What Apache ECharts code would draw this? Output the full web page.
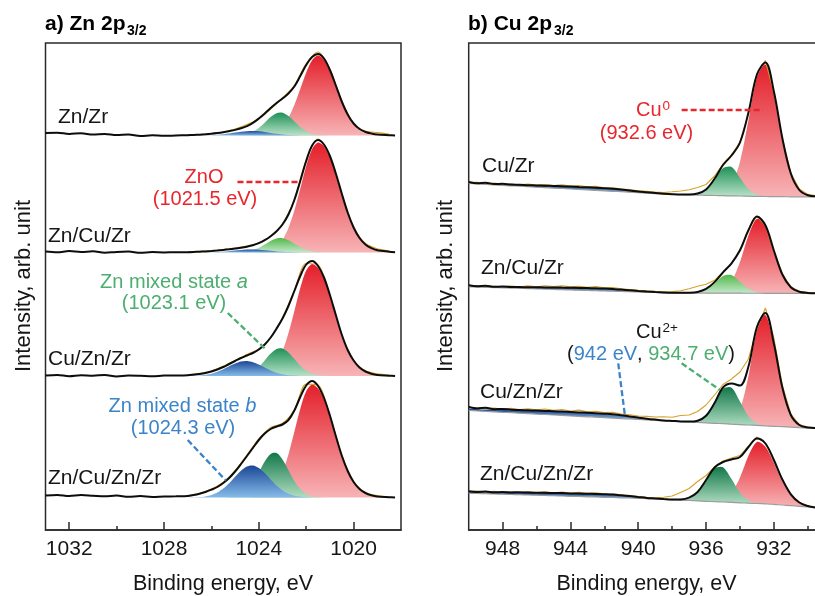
<!DOCTYPE html>
<html>
<head>
<meta charset="utf-8">
<title>Zn 2p3/2 and Cu 2p3/2 XPS</title>
<script src="https://cdn.jsdelivr.net/npm/echarts@6.0.0/dist/echarts.min.js"></script>
<style>
  html, body { margin: 0; padding: 0; background: #fff; }
  #chart { width: 815px; height: 596px; }
</style>
</head>
<body>
<div id="chart"></div>
<script>
// ===================== Zn 2p3/2 panel =====================
const znSamples = ['Zn/Zr', 'Zn/Cu/Zr', 'Cu/Zn/Zr', 'Zn/Cu/Zn/Zr'];
const znTicks = [1032, 1028, 1024, 1020];
const znMinorTicks = [1030, 1026, 1022];

// binding energy grid of the fitted curves (eV)
const znEnergy = [1033, 1032.5, 1032, 1031.5, 1031, 1030.5, 1030, 1029.5, 1029, 1028.5, 1028, 1027.5,
  1027, 1026.75, 1026.5, 1026.25, 1026, 1025.75, 1025.5, 1025.25, 1025, 1024.75, 1024.5, 1024.25,
  1024, 1023.75, 1023.5, 1023.25, 1023, 1022.75, 1022.5, 1022.25, 1022, 1021.75, 1021.5, 1021.25,
  1021, 1020.75, 1020.5, 1020.25, 1020, 1019.75, 1019.5, 1019.25, 1019, 1018.5, 1018.25];
// energy grid of the measured counts
const znRawEnergy = [1027, 1026.5, 1026, 1025.5, 1025, 1024.5, 1024, 1023.5, 1023, 1022.5, 1022, 1021.5,
  1021, 1020.5, 1020, 1019.5, 1019, 1018.5];

// Zn/Zr
const zn_ZnZr_ZnO = [0,0,0,0,0,0,0,0,0,0,0,0, 0,0,0,0,0,0,0,0,0,0,0,0,
  0.2,0.6,1.7,4.2,9.1,17.8,30.5,46.5,62.9,75.3,80.0,75.7,64.1,48.6,32.9,19.9,10.8,5.3,2.3,0.9,0.3,0,0];
const zn_ZnZr_mixA = [0,0,0,0,0,0,0,0,0,0,0,0, 0,0,0,0,0,0,0,0,
  0.2,0.5,1.5,3.7,7.5,12.8,18.4,22.3,22.7,19.4,14.0,8.4,4.3,1.8,0.7,0.2, 0,0,0,0,0,0,0,0,0,0,0];
const zn_ZnZr_mixB = [0,0,0,0,0,0,0,0,0,0,0,0, 0,0,0,
  0.2,0.3,0.7,1.3,2.0,2.9,3.8,4.3,4.5,4.2,3.4,2.5,1.7,1.0,0.5,0.3,0.1, 0,0,0,0,0,0,0,0,0,0,0,0,0,0,0];
const zn_ZnZr_fit = [2.5,2.8,1.6,2.2,1.0,1.5,0.4,1.0,-0.6,0.3,-0.3,0.0,
  0.3,0.5,0.8,1.2,1.7,2.4,3.3,4.4,5.6,7.2,9.4,12.6,17.0,22.0,27.5,32.5,37.0,42.0,49.0,59.5,70.5,78.5,81.5,
  77.0,65.5,50.0,34.0,21.0,12.0,6.5,3.5,2.0,1.0,0.3,0];
const zn_ZnZr_raw = [0.5,1.0,2.0,3.5,6.5,11.0,16.5,26.5,37.5,50.0,72.0,83.5,66.5,35.0,12.0,4.5,3.0,1.5];

// Zn/Cu/Zr
const zn_ZnCuZr_ZnO = [0,0,0,0,0,0,0,0,0,0,0,0, 0,0,0,0,0,0,0,0,0,0,0,0,
  0.2,0.9,2.3,5.7,12.5,24.4,41.9,63.9,86.5,103.5,110.0,106.2,95.2,78.1,58.3,39.6,24.8,14.3,7.7,3.9,1.8,0.3,0.1];
const zn_ZnCuZr_mixA = [0,0,0,0,0,0,0,0,0,0,0,0, 0,0,0,0,0,0,0,0,
  0.1,0.3,1.0,2.3,4.7,8.1,11.6,14.1,14.3,12.2,8.8,5.3,2.7,1.2,0.4,0.1, 0,0,0,0,0,0,0,0,0,0,0];
const zn_ZnCuZr_mixB = [0,0,0,0,0,0,0,0,0,0,0,0, 0,0,0,
  0.1,0.2,0.5,0.8,1.3,1.9,2.5,2.9,3.0,2.8,2.3,1.7,1.1,0.7,0.4,0.2,0.1, 0,0,0,0,0,0,0,0,0,0,0,0,0,0,0];
const zn_ZnCuZr_fit = [1.0,0.2,1.4,0.5,1.2,-0.3,0.6,0.9,-0.2,0.4,0.1,0.2,
  0.3,0.5,0.8,1.1,1.5,2.0,2.6,3.2,3.9,4.7,5.8,7.2,9.3,12.4,16.3,21.3,28.0,38.0,52.5,71.5,91.5,107.0,112.5,
  108.0,96.5,79.0,59.0,40.0,25.0,14.5,8.0,4.3,2.2,0.8,0.3];
const zn_ZnCuZr_raw = [0.6,1.2,1.8,2.9,4.6,6.4,9.8,16.0,28.6,53.0,92.5,113.5,96.0,58.5,25.5,9.0,3.8,1.6];

// Cu/Zn/Zr
const zn_CuZnZr_ZnO = [0,0,0,0,0,0,0,0,0,0,0,0, 0,0,0,0,0,0,0,0,0,0,0,
  0.2,0.9,2.4,5.8,12.8,24.9,42.7,65.1,88.0,105.4,112.0,108.1,96.9,79.5,59.4,40.3,25.2,14.6,7.8,3.9,1.8,0.8,0.2,0.1];
const zn_CuZnZr_mixA = [0,0,0,0,0,0,0,0,0,0,0,0, 0,0,0,0,0,0,0,
  0.1,0.2,0.6,1.8,4.5,9.1,15.6,22.4,27.1,27.6,23.6,17.0,10.3,5.2,2.2,0.8,0.3,0.1, 0,0,0,0,0,0,0,0,0,0];
const zn_CuZnZr_mixB = [0,0,0,0,0,0,0,0,0,0,0,0, 0,
  0.2,0.5,1.2,2.3,4.2,6.7,9.7,12.5,14.5,15.0,13.8,11.5,8.5,5.6,3.3,1.8,0.8,0.4,0.1, 0,0,0,0,0,0,0,0,0,0,0,0,0,0,0];
const zn_CuZnZr_fit = [0.5,1.1,-0.2,0.8,0.3,1.0,-0.4,0.5,0.2,-0.3,0.4,0.5,
  0.8,1.3,2.0,3.0,4.5,6.5,9.0,12.0,15.0,18.0,20.5,23.0,26.5,31.5,38.5,47.5,57.5,70.0,85.0,100.0,111.5,115.0,110.0,
  98.5,81.0,61.0,41.5,26.0,15.5,8.5,4.5,2.3,1.0,0.3,0];
const zn_CuZnZr_raw = [1.2,2.6,4.9,9.8,15.4,21.6,27.0,38.0,58.0,85.5,112.5,111.0,80.5,41.0,16.0,5.2,2.2,1.0];

// Zn/Cu/Zn/Zr
const zn_ZnCuZnZr_ZnO = [0,0,0,0,0,0,0,0,0,0,0,0, 0,0,0,0,0,0,0,0,0,0,0,
  0.2,0.9,2.4,5.9,12.9,25.1,43.1,65.7,88.8,106.3,113.0,109.0,97.7,80.2,59.9,40.7,25.4,14.7,7.9,4.0,1.8,0.8,0.2,0.1];
const zn_ZnCuZnZr_mixA = [0,0,0,0,0,0,0,0,0,0,0,0, 0,0,0,0,0,0,
  0.1,0.3,1.0,3.0,7.2,14.6,25.0,36.0,43.6,44.4,38.0,27.3,16.5,8.4,3.6,1.3,0.4,0.1, 0,0,0,0,0,0,0,0,0,0,0];
const zn_ZnCuZnZr_mixB = [0,0,0,0,0,0,0,0,0,0,0,0,
  0.1,0.2,0.4,1.1,2.5,4.9,8.9,14.3,20.7,26.7,30.9,31.9,29.5,24.4,18.1,12.0,7.1,3.8,1.8,0.8,0.3,0.1,
  0,0,0,0,0,0,0,0,0,0,0,0,0];
const zn_ZnCuZnZr_fit = [2.0,2.6,1.5,2.4,1.8,1.2,1.9,0.8,1.4,0.6,1.0,1.2,
  1.5,2.5,3.8,5.5,7.8,10.5,14.5,19.5,26.0,33.5,41.5,49.5,57.5,64.0,68.5,71.0,73.0,77.5,87.0,100.5,112.0,116.5,111.5,
  99.5,82.0,61.5,42.0,26.5,15.5,8.5,4.5,2.2,1.0,0.3,0];
const zn_ZnCuZnZr_raw = [2.0,4.3,8.5,15.2,26.8,42.5,58.6,70.0,74.2,87.5,113.4,112.6,81.5,42.5,16.2,5.0,1.8,0.6];

// ===================== Cu 2p3/2 panel =====================
const cuSamples = ['Cu/Zr', 'Zn/Cu/Zr', 'Cu/Zn/Zr', 'Zn/Cu/Zn/Zr'];
const cuTicks = [948, 944, 940, 936, 932, 928];
const cuMinorTicks = [946, 942, 938, 934, 930];

const cuEnergy = [950, 949.5, 949, 948.5, 948, 947.5, 947, 946.5, 946, 945.5, 945, 944.5, 944, 943.5,
  943, 942.5, 942, 941.5, 941, 940.5, 940, 939.5, 939, 938.5, 938, 937.5, 937, 936.5, 936, 935.5,
  935, 934.5, 934, 933.5, 933, 932.5, 932, 931.5, 931, 930.5, 930, 929.5];

// Cu/Zr
const cu_CuZr_bg = [13.5,13.0,12.6,12.1,11.7,11.2,10.8,10.3,9.8,9.4, 8.9,8.5,8.0,7.5,7.1,6.6,6.2,5.7,5.3,4.8,
  4.3,3.9,3.4,3.0,2.5,2.3,2.1,1.9,1.7,1.5, 1.3,1.1,1.0,0.8,0.6,0.5,0.4,0.3,0.2,0.1, 0,0];
const cu_CuZr_sat = [0.34,0.43,0.54,0.67,0.81,0.97,1.15,1.33,1.52,1.71, 1.89,2.06,2.21,2.33,2.42,2.48,2.5,2.37,2.0,1.52,
  1.03,0.62,0.34,0.17,0.07,0.03,0.01, 0,0,0,0,0,0,0,0,0,0,0,0,0,0,0];
const cu_CuZr_Cu2 = [0,0,0,0,0,0,0,0,0,0, 0,0,0,0,0,0,0,0,0,0, 0,0,0,0,0,0,
  0.1,1.1,5.3,15.6,27.4,28.8,18.2,6.9,1.6,0.2, 0,0,0,0,0,0];
const cu_CuZr_Cu0 = [0,0,0,0,0,0,0,0,0,0, 0,0,0,0,0,0,0,0,0,0, 0,0,0,0,0,0,0,0,0,
  0.4,2.5,10.9,34.3,75.9,119.0,132.1,103.6,57.6,22.6,6.3,1.2,0.1];
const cu_CuZr_fit = [15.0,13.8,14.3,12.9,13.2,12.4,12.3,11.8,11.6,11.3, 11.0,10.8,10.4,10.0,9.7,9.3,8.8,8.2,7.4,6.5,
  5.5,4.7,3.9,3.3,2.8,2.5,2.5,3.5,7.6,18.2, 32.0,41.5,54.5,84.5,122.5,134.5,105.5,58.8,23.5,7.0, 1.8,0.6];
const cu_CuZr_raw = [14.8,14.6,13.6,13.9,12.8,13.0,12.1,12.9,11.9,12.4, 11.4,12.3,10.9,11.5,10.2,10.6,9.1,9.3,7.9,7.4,
  6.2,5.6,4.9,4.5,5.2,6.0,7.2,9.5,12.5,21.0, 33.0,42.0,55.0,83.5,123.5,136.5,104.5,58.0,24.0,8.0, 2.6,1.2];

// Zn/Cu/Zr
const cu_ZnCuZr_bg = [6.5,6.2,6.0,5.7,5.5,5.2,4.9,4.7,4.4,4.2, 3.9,3.6,3.4,3.1,2.9,2.6,2.3,2.1,1.8,1.6,
  1.3,1.0,0.8,0.5,0.3,0.25,0.2,0.2,0.15,0.15, 0.1,0.1,0.1,0.05,0.05,0,0,0,0,0, 0,0];
const cu_ZnCuZr_sat = [0.30,0.38,0.48,0.59,0.72,0.86,1.01,1.17,1.34,1.50, 1.66,1.81,1.94,2.05,2.13,2.18,2.2,2.08,1.76,1.34,
  0.90,0.55,0.30,0.15,0.06,0.02,0.01, 0,0,0,0,0,0,0,0,0,0,0,0,0,0,0];
const cu_ZnCuZr_Cu2 = [0,0,0,0,0,0,0,0,0,0, 0,0,0,0,0,0,0,0,0,0, 0,0,0,0,0,0,
  0.1,0.7,3.4,9.9,17.3,18.2,11.5,4.4,1.0,0.1, 0,0,0,0,0,0];
const cu_ZnCuZr_Cu0 = [0,0,0,0,0,0,0,0,0,0, 0,0,0,0,0,0,0,0,0,0, 0,0,0,0,0,0,0,0,
  0.1,0.6,3.1,11.7,31.2,57.8,74.5,66.8,41.7,18.1,5.5,1.1,0.2,0];
const cu_ZnCuZr_fit = [8.0,7.0,7.6,6.5,6.7,6.3,6.2,6.1,6.0,5.9, 5.8,5.7,5.6,5.4,5.2,5.0,4.7,4.3,3.7,3.1,
  2.4,1.8,1.3,0.9,0.6,0.5,0.6,1.4,4.4,11.2, 21.0,30.0,43.0,63.0,76.8,68.0,42.8,18.8,6.0,1.6, 0.4,0.1];
const cu_ZnCuZr_raw = [7.8,7.5,7.2,7.0,6.8,7.2,6.6,7.4,6.5,7.6, 6.8,7.5,6.4,7.0,6.0,6.8,5.4,5.8,4.5,3.8,
  2.9,2.4,1.9,1.5,1.8,2.6,4.6,7.0,9.0,13.0, 21.5,29.5,43.5,63.5,77.5,67.5,42.0,19.5,6.5,2.0, 1.0,0.5];

// Cu/Zn/Zr
const cu_CuZnZr_bg = [18.5,18.1,17.6,17.2,16.7,16.3,15.8,15.4,14.9,14.5, 14.0,13.6,13.1,12.7,12.2,11.8,11.3,10.9,10.4,10.0,
  9.5,9.1,8.7,8.2,7.8,7.4,7.0,6.5,6.1,5.7, 5.3,4.8,4.4,4.0,3.6,3.1,2.7,2.3,1.9,1.4, 1.0,0.8];
const cu_CuZnZr_sat = [1.56,1.74,1.92,2.11,2.31,2.50,2.69,2.87,3.04,3.21, 3.35,3.48,3.59,3.68,3.75,3.79,3.8,3.59,3.04,2.31,
  1.56,0.95,0.51,0.25,0.11,0.04,0.02, 0,0,0,0,0,0,0,0,0,0,0,0,0,0,0];
const cu_CuZnZr_Cu2 = [0,0,0,0,0,0,0,0,0,0, 0,0,0,0,0,0,0,0,0,0, 0,0,0,0,0,0,
  0.2,1.4,6.8,19.8,34.7,36.5,23.1,8.7,2.0,0.3, 0,0,0,0,0,0];
const cu_CuZnZr_Cu0 = [0,0,0,0,0,0,0,0,0,0, 0,0,0,0,0,0,0,0,0,0, 0,0,0,0,0,0,0,0,0,0,
  0.3,2.8,15.1,48.9,95.1,111.0,81.3,38.2,11.5,2.2,0.3,0];
const cu_CuZnZr_fit = [22.0,20.6,21.3,19.8,20.0,19.3,19.0,18.7,18.4,18.1, 17.8,17.4,17.0,16.6,16.2,15.8,15.3,14.7,13.7,12.6,
  11.4,10.3,9.4,8.6,8.1,7.6,7.4,8.3,13.3,26.0, 41.5,45.5,43.5,62.5,102.0,116.0,85.5,41.5,14.0,4.0, 1.5,1.0];
const cu_CuZnZr_raw = [21.5,21.2,20.4,20.9,19.8,20.6,19.4,20.3,19.2,20.0, 18.6,19.5,18.0,18.9,17.2,17.8,16.4,16.6,15.0,14.2,
  13.0,12.6,12.0,12.2,11.8,13.5,14.0,17.5,24.0,34.0, 44.5,50.0,57.0,70.0,100.0,121.0,91.0,43.5,15.0,4.5, 2.0,1.2];

// Zn/Cu/Zn/Zr
const cu_ZnCuZnZr_bg = [14.3,14.0,13.8,13.5,13.3,13.0,12.8,12.5,12.3,12.0, 11.8,11.5,11.2,11.0,10.7,10.5,10.2,10.0,9.7,9.5,
  9.2,8.8,8.5,8.1,7.7,7.3,7.0,6.6,6.2,5.8, 5.5,5.1,4.7,4.3,4.0,3.6,3.2,2.5,1.9,1.2, 0.5,0];
const cu_ZnCuZnZr_sat = [1.23,1.37,1.52,1.67,1.82,1.97,2.12,2.27,2.40,2.53, 2.65,2.75,2.84,2.91,2.96,2.99,3.0,2.84,2.40,1.82,
  1.23,0.75,0.41,0.20,0.09,0.03,0.01, 0,0,0,0,0,0,0,0,0,0,0,0,0,0,0];
const cu_ZnCuZnZr_Cu2 = [0,0,0,0,0,0,0,0,0,0, 0,0,0,0,0,0,0,0,0,0, 0,0,0,0,0,
  0.3,2.0,8.0,20.4,33.2,34.7,23.3,10.0,2.8,0.5,0.1, 0,0,0,0,0,0];
const cu_ZnCuZnZr_Cu0 = [0,0,0,0,0,0,0,0,0,0, 0,0,0,0,0,0,0,0,0,0, 0,0,0,0,0,0,0,0,0,
  0.4,2.4,9.2,25.2,47.4,61.6,57.2,41.4,23.3,10.2,3.5,0.9,0.2];
const cu_ZnCuZnZr_fit = [16.3,15.6,15.9,15.3,15.4,15.1,15.2,14.9,14.8,14.7, 14.5,14.4,14.1,14.0,13.7,13.6,13.3,12.9,12.2,11.4,
  10.5,9.6,9.0,8.4,7.9,8.0,9.8,15.5,27.5,40.0, 45.5,48.0,50.5,60.5,69.0,64.0,47.5,28.0,13.2,5.0, 1.5,-0.3];
const cu_ZnCuZnZr_raw = [16.0,16.4,15.5,16.1,15.2,15.8,15.0,15.9,14.9,15.8, 14.8,15.4,14.5,15.2,14.2,14.6,13.6,13.5,12.6,11.9,
  11.0,10.2,9.8,10.2,11.5,15.0,19.0,26.0,32.0,40.5, 46.5,49.5,52.0,61.5,70.5,64.5,47.0,27.5,13.0,5.2, 1.5,0];

// vertical stacking of the spectra (intensity units, bottom of plot = 0)
const znStackOffset = [394.5, 277.5, 154, 32.5];
const cuStackOffset = [333, 236.7, 101, 22.5];

// ===================== styling =====================
const FONT = '"Liberation Sans", Arial, Helvetica, sans-serif';
const INK = '#161616';
const FRAME = '#2a2a2a';
const TXT_RED = '#e8262b', TXT_GREEN = '#4cae6f', TXT_BLUE = '#3b84c9';
const PAL = {
  red:   ['#e41f2a', '#f7b4b6'],
  green: ['#1e9156', '#b9e2c8'],
  lime:  ['#52b947', '#c4e8cd'],
  deep:  ['#12784a', '#b0ddc1'],
  blue:  ['#1b4797', '#86bbe8']
};
const LINE_FIT = '#0d0d0d', LINE_RAW = '#d6a12b', LINE_BG = '#9c9c9c';

function grad(c) {
  return new echarts.graphic.LinearGradient(0, 0, 0, 1, [
    { offset: 0, color: c[0] }, { offset: 1, color: c[1] }
  ]);
}

// filled component peaks: each polygon spans from its background up to background + component
function fillLayer(xIdx, yIdx, energy, items) {
  return {
    type: 'custom', xAxisIndex: xIdx, yAxisIndex: yIdx, silent: true, z: 2, animation: false,
    data: items.map(it => [energy[0], it.offset]),
    renderItem(params, api) {
      const it = items[params.dataIndex];
      let lo = -1, hi = -1;
      it.values.forEach((v, i) => { if (v > 0.04) { if (lo < 0) lo = i; hi = i; } });
      lo = Math.max(0, lo - 1); hi = Math.min(energy.length - 1, hi + 1);
      const top = [], bot = [];
      for (let i = lo; i <= hi; i++) {
        const b = it.offset + (it.bg ? it.bg[i] : 0);
        top.push(api.coord([energy[i], b + it.values[i]]));
        bot.push(api.coord([energy[i], b]));
      }
      return {
        type: 'polygon',
        shape: { points: top.concat(bot.reverse()), smooth: 0.3 },
        style: { fill: grad(it.colors), stroke: null }
      };
    }
  };
}

function curve(xIdx, yIdx, energy, offset, values, color, width, smooth, z, extra) {
  return Object.assign({
    type: 'line', xAxisIndex: xIdx, yAxisIndex: yIdx,
    data: energy.map((e, i) => [e, offset + values[i]]),
    showSymbol: false, symbol: 'none', smooth: smooth, silent: true, animation: false, z: z,
    lineStyle: { color: color, width: width }
  }, extra || {});
}

function dash(color, a, b) {
  return [{ coord: a, lineStyle: { color: color, width: 2.3, type: [6, 3] } }, { coord: b }];
}
function leaderLines(list) {
  return {
    markLine: {
      silent: true, symbol: ['none', 'none'], label: { show: false }, animation: false,
      lineStyle: { width: 2.3, type: [6, 3], opacity: 1 },
      emphasis: { disabled: true },
      data: list
    }
  };
}

// ----- Zn panel layers -----
const znSets = [
  { ZnO: zn_ZnZr_ZnO, a: zn_ZnZr_mixA, b: zn_ZnZr_mixB, fit: zn_ZnZr_fit, raw: zn_ZnZr_raw, green: PAL.green },
  { ZnO: zn_ZnCuZr_ZnO, a: zn_ZnCuZr_mixA, b: zn_ZnCuZr_mixB, fit: zn_ZnCuZr_fit, raw: zn_ZnCuZr_raw, green: PAL.lime },
  { ZnO: zn_CuZnZr_ZnO, a: zn_CuZnZr_mixA, b: zn_CuZnZr_mixB, fit: zn_CuZnZr_fit, raw: zn_CuZnZr_raw, green: PAL.green },
  { ZnO: zn_ZnCuZnZr_ZnO, a: zn_ZnCuZnZr_mixA, b: zn_ZnCuZnZr_mixB, fit: zn_ZnCuZnZr_fit, raw: zn_ZnCuZnZr_raw, green: PAL.deep }
];
const znFillItems = [];
znSets.forEach((s, k) => {
  const off = znStackOffset[k];
  znFillItems.push({ offset: off, values: s.ZnO, colors: PAL.red });
  znFillItems.push({ offset: off, values: s.a, colors: s.green });
  znFillItems.push({ offset: off, values: s.b, colors: PAL.blue });
});

// ----- Cu panel layers -----
const cuSets = [
  { bg: cu_CuZr_bg, sat: cu_CuZr_sat, Cu2: cu_CuZr_Cu2, Cu0: cu_CuZr_Cu0, fit: cu_CuZr_fit, raw: cu_CuZr_raw, green: PAL.green },
  { bg: cu_ZnCuZr_bg, sat: cu_ZnCuZr_sat, Cu2: cu_ZnCuZr_Cu2, Cu0: cu_ZnCuZr_Cu0, fit: cu_ZnCuZr_fit, raw: cu_ZnCuZr_raw, green: PAL.lime },
  { bg: cu_CuZnZr_bg, sat: cu_CuZnZr_sat, Cu2: cu_CuZnZr_Cu2, Cu0: cu_CuZnZr_Cu0, fit: cu_CuZnZr_fit, raw: cu_CuZnZr_raw, green: PAL.deep },
  { bg: cu_ZnCuZnZr_bg, sat: cu_ZnCuZnZr_sat, Cu2: cu_ZnCuZnZr_Cu2, Cu0: cu_ZnCuZnZr_Cu0, fit: cu_ZnCuZnZr_fit, raw: cu_ZnCuZnZr_raw, green: PAL.deep }
];
const cuFillItems = [];
cuSets.forEach((s, k) => {
  const off = cuStackOffset[k];
  cuFillItems.push({ offset: off, bg: s.bg, values: s.Cu0, colors: PAL.red });
  cuFillItems.push({ offset: off, bg: s.bg, values: s.Cu2, colors: s.green });
  cuFillItems.push({ offset: off, bg: s.bg, values: s.sat, colors: PAL.blue });
});

const series = [fillLayer(0, 0, znEnergy, znFillItems), fillLayer(2, 1, cuEnergy, cuFillItems)];

znSets.forEach((s, k) => {
  const off = znStackOffset[k];
  series.push(curve(0, 0, znRawEnergy, off, s.raw, LINE_RAW, 1.1, 0.3, 3));
  const extra = k === 0 ? leaderLines([
    dash(TXT_RED, [1024.9, 348], [1022.25, 348]),
    dash(TXT_GREEN, [1025.31, 217], [1023.68, 180]),
    dash(TXT_BLUE, [1027.0, 90], [1025.39, 49.5])
  ]) : null;
  series.push(curve(0, 0, znEnergy, off, s.fit, LINE_FIT, 2, 0.35, 4, extra));
});

cuSets.forEach((s, k) => {
  const off = cuStackOffset[k];
  series.push(curve(2, 1, cuEnergy, off, s.bg, LINE_BG, 1.2, 0.2, 3));
  series.push(curve(2, 1, cuEnergy, off, s.raw, LINE_RAW, 1.1, false, 3));
  const extra = k === 0 ? leaderLines([
    dash(TXT_RED, [937.44, 420], [932.65, 420]),
    dash(TXT_BLUE, [941.18, 166.7], [940.79, 115]),
    dash(TXT_GREEN, [937.44, 166.7], [935.18, 140])
  ]) : null;
  series.push(curve(2, 1, cuEnergy, off, s.fit, LINE_FIT, 2, 0.35, 4, extra));
});

// ----- axes -----
function majorAxis(grid, min, max, ticks) {
  return {
    gridIndex: grid, type: 'value', min: min, max: max, inverse: true, position: 'bottom',
    axisLine: { show: true, lineStyle: { color: FRAME, width: 1.5 } },
    axisTick: { show: true, inside: true, length: 8, customValues: ticks, lineStyle: { color: FRAME, width: 1.5 } },
    axisLabel: { show: true, customValues: ticks, margin: 9, fontSize: 21, fontFamily: FONT, color: INK,
      formatter: v => String(v) },
    splitLine: { show: false }
  };
}
function minorAxis(grid, min, max, ticks) {
  return {
    gridIndex: grid, type: 'value', min: min, max: max, inverse: true, position: 'bottom', offset: 0,
    axisLine: { show: false },
    axisTick: { show: true, inside: true, length: 4, customValues: ticks, lineStyle: { color: FRAME, width: 1.5 } },
    axisLabel: { show: false },
    splitLine: { show: false }
  };
}

// ----- text -----
function txt(x, y, text, size, color, align, extra) {
  return Object.assign({
    type: 'text', x: x, y: y, silent: true, z: 100,
    style: {
      text: text, fontSize: size, fontFamily: FONT, fill: color,
      align: align || 'left', verticalAlign: 'middle'
    }
  }, extra || {});
}
function richTxt(x, y, text, rich, align) {
  return {
    type: 'text', x: x, y: y, silent: true, z: 100,
    style: {
      text: text, rich: rich, fontSize: 20, fontFamily: FONT, fill: INK,
      align: align || 'center', verticalAlign: 'middle'
    }
  };
}
function boldTxt(x, y, text, size) {
  return { type: 'text', x: x, y: y, silent: true, z: 100,
    style: { text: text, fontSize: size, fontWeight: 'bold', fontFamily: FONT, fill: '#000', align: 'left', verticalAlign: 'middle' } };
}
const graphics = [
  // panel titles
  boldTxt(45, 24.5, 'a) Zn 2p', 21),
  boldTxt(127, 31, '3/2', 14),
  boldTxt(468, 24.5, 'b) Cu 2p', 21),
  boldTxt(554, 31, '3/2', 14),
  // axis titles
  txt(223, 584, 'Binding energy, eV', 21.5, INK, 'center'),
  txt(646.5, 584, 'Binding energy, eV', 21.5, INK, 'center'),
  txt(24, 286, 'Intensity, arb. unit', 22, INK, 'center', { rotation: Math.PI / 2 }),
  txt(446, 286, 'Intensity, arb. unit', 22, INK, 'center', { rotation: Math.PI / 2 }),
  // sample names
  txt(58, 117, znSamples[0], 21, INK),
  txt(48, 236.5, znSamples[1], 21, INK),
  txt(48, 359, znSamples[2], 21, INK),
  txt(48, 478.5, znSamples[3], 21, INK),
  txt(482, 166.7, cuSamples[0], 21, INK),
  txt(481, 268.5, cuSamples[1], 21, INK),
  txt(480, 392, cuSamples[2], 21, INK),
  txt(480, 474, cuSamples[3], 21, INK),
  // component assignments, Zn
  txt(204, 177.5, 'ZnO', 20, TXT_RED, 'center'),
  txt(205, 199.7, '(1021.5 eV)', 20, TXT_RED, 'center'),
  richTxt(174, 282.5, '{n|Zn mixed state }{i|a}', {
    n: { fontSize: 20, fontFamily: FONT, fill: TXT_GREEN, color: TXT_GREEN },
    i: { fontSize: 20, fontFamily: FONT, fontStyle: 'italic', fill: TXT_GREEN, color: TXT_GREEN }
  }),
  txt(174, 303.3, '(1023.1 eV)', 20, TXT_GREEN, 'center'),
  richTxt(182.5, 406, '{n|Zn mixed state }{i|b}', {
    n: { fontSize: 20, fontFamily: FONT, fill: TXT_BLUE, color: TXT_BLUE },
    i: { fontSize: 20, fontFamily: FONT, fontStyle: 'italic', fill: TXT_BLUE, color: TXT_BLUE }
  }),
  txt(183, 428.3, '(1024.3 eV)', 20, TXT_BLUE, 'center'),
  // component assignments, Cu
  txt(661.5, 110.7, 'Cu', 20, TXT_RED, 'right'),
  txt(662.5, 106, '0', 13.5, TXT_RED, 'left'),
  txt(646.5, 133.3, '(932.6 eV)', 20, TXT_RED, 'center'),
  txt(661.5, 332, 'Cu', 20, INK, 'right'),
  txt(662.5, 328, '2+', 13.5, INK, 'left'),
  richTxt(651, 354, '{k|(}{b|942 eV}{k|, }{g|934.7 eV}{k|)}', {
    k: { fontSize: 20, fontFamily: FONT, fill: INK, color: INK },
    b: { fontSize: 20, fontFamily: FONT, fill: TXT_BLUE, color: TXT_BLUE },
    g: { fontSize: 20, fontFamily: FONT, fill: TXT_GREEN, color: TXT_GREEN }
  })
];

const chart = echarts.init(document.getElementById('chart'), null, { renderer: 'canvas' });
chart.setOption({
  animation: false,
  backgroundColor: '#ffffff',
  textStyle: { fontFamily: FONT },
  grid: [
    { left: 45.5, top: 43, width: 355.5, height: 487, show: true, borderColor: FRAME, borderWidth: 1.5,
      backgroundColor: 'transparent', containLabel: false, outerBoundsMode: 'none' },
    { left: 468.7, top: 43, width: 373, height: 487, show: true, borderColor: FRAME, borderWidth: 1.5,
      backgroundColor: 'transparent', containLabel: false, outerBoundsMode: 'none' }
  ],
  xAxis: [
    majorAxis(0, 1018, 1033, znTicks),
    minorAxis(0, 1018, 1033, znMinorTicks),
    majorAxis(1, 928, 950, cuTicks),
    minorAxis(1, 928, 950, cuMinorTicks)
  ],
  yAxis: [
    { gridIndex: 0, type: 'value', min: 0, max: 487, show: false },
    { gridIndex: 1, type: 'value', min: 0, max: 487, show: false }
  ],
  series: series,
  graphic: graphics
});
</script>
</body>
</html>
